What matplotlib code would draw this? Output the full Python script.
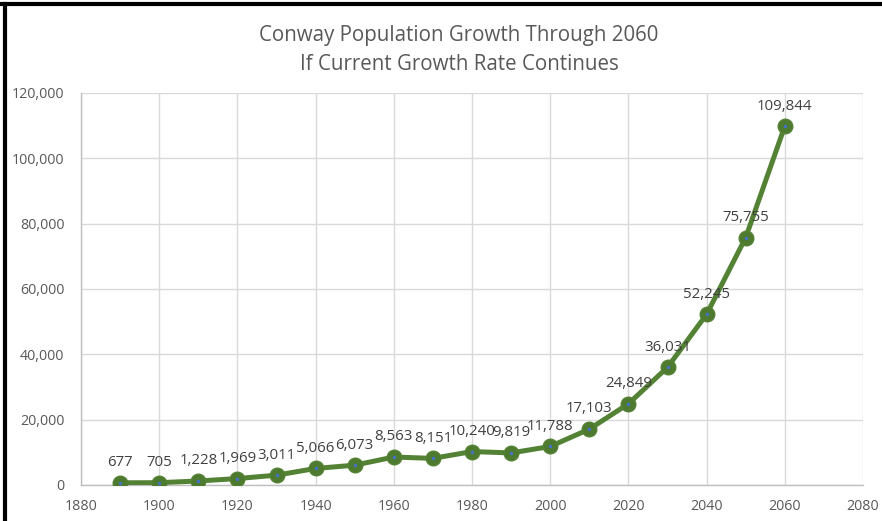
import matplotlib
matplotlib.use("Agg")
import matplotlib.pyplot as plt
from matplotlib.lines import Line2D
from matplotlib.ticker import FuncFormatter

years = [1890, 1900, 1910, 1920, 1930, 1940, 1950, 1960, 1970, 1980,
         1990, 2000, 2010, 2020, 2030, 2040, 2050, 2060]
population = [677, 705, 1228, 1969, 3011, 5066, 6073, 8563, 8151, 10240,
              9819, 11788, 17103, 24849, 36031, 52245, 75755, 109844]
x_ticks = list(range(1880, 2081, 20))
y_ticks = list(range(0, 120001, 20000))
title_lines = ["Conway Population Growth Through 2060", "If Current Growth Rate Continues"]

plt.rcParams['font.family'] = ['Open Sans', 'DejaVu Sans']

fig = plt.figure(figsize=(8.82, 5.21), dpi=100)
ax = fig.add_axes([81/882, 1-485/521, (863-81)/882, (485-93)/521])

green = '#548235'
ax.plot(years, population, color=green, lw=3.6, marker='o', ms=10.5,
        markerfacecolor='#4e7a2f', markeredgecolor=green, zorder=3)
ax.plot(years, population, ls='none', marker='o', ms=1.5, color='#4472c4', zorder=4)

for x, y in zip(years, population):
    ax.annotate(f"{y:,}", (x, y), xytext=(0, 14.5), textcoords='offset points',
                ha='center', va='center', fontsize=10.8, color='#404040', zorder=5)

ax.set_xlim(1880, 2080)
ax.set_ylim(0, 120000)
ax.set_xticks(x_ticks)
ax.set_yticks(y_ticks)
ax.yaxis.set_major_formatter(FuncFormatter(lambda v, p: f"{int(v):,}"))
ax.grid(True, color='#d9d9d9', lw=1)
ax.set_axisbelow(True)
for s in ['top', 'right']:
    ax.spines[s].set_visible(False)
for s in ['left', 'bottom']:
    ax.spines[s].set_color('#bfbfbf')
    ax.spines[s].set_linewidth(1)
ax.tick_params(length=0, labelsize=10.3, labelcolor='#595959')
ax.tick_params(axis='y', pad=12)
ax.tick_params(axis='x', pad=10)

fig.text(459/882, 1-35/521, title_lines[0], ha='center', va='center', fontsize=14.8, color='#595959')
fig.text(459/882, 1-64/521, title_lines[1], ha='center', va='center', fontsize=14.8, color='#595959')

# frame lines (top and left)
fig.add_artist(Line2D([0, 1], [1-4/521, 1-4/521], transform=fig.transFigure, color='black', lw=3))
fig.add_artist(Line2D([5/882, 5/882], [0, 1-4/521], transform=fig.transFigure, color='black', lw=3))

fig.savefig('out.png', dpi=100)
